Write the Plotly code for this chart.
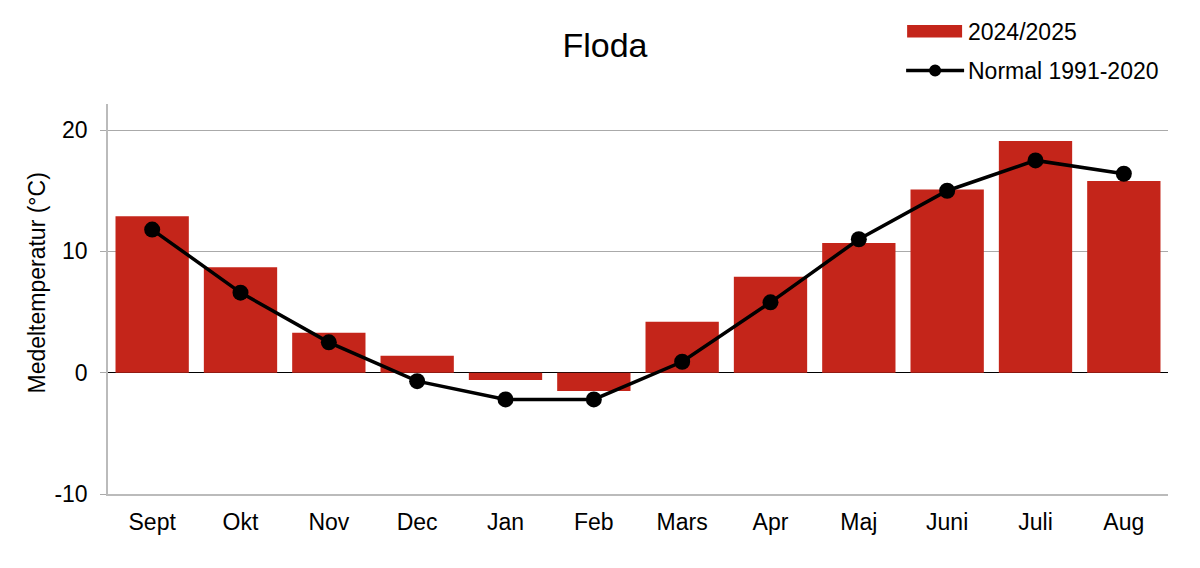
import plotly.graph_objects as go

months = ["Sept", "Okt", "Nov", "Dec", "Jan", "Feb", "Mars", "Apr", "Maj", "Juni", "Juli", "Aug"]
season_2024_2025 = [12.9, 8.7, 3.3, 1.4, -0.6, -1.5, 4.2, 7.9, 10.7, 15.1, 19.1, 15.8]
normal_1991_2020 = [11.8, 6.6, 2.5, -0.7, -2.2, -2.2, 0.9, 5.8, 11.0, 15.0, 17.5, 16.4]
y_ticks = [-10, 0, 10, 20]
y_tick_labels = ["-10", "0", "10", "20"]

BAR_COLOR = "#C4251A"
FONT = "Liberation Sans, Arial, sans-serif"

W, H = 1200, 568
L, R, T, B = 107.5, 32, 104, 74
PW, PH = W - L - R, H - T - B

def px(x):
    return (x - L) / PW

def py(y):
    return (H - B - y) / PH

fig = go.Figure()
fig.add_trace(go.Bar(x=months, y=season_2024_2025, marker=dict(color=BAR_COLOR, line=dict(width=0)),
                     name="2024/2025", showlegend=False))
fig.add_trace(go.Scatter(x=months, y=normal_1991_2020, mode="lines+markers",
                         line=dict(color="black", width=3.5), marker=dict(color="black", size=16),
                         name="Normal 1991-2020", showlegend=False))

# custom legend
fig.add_shape(type="rect", xref="paper", yref="paper", x0=px(907), x1=px(962), y0=py(37.5), y1=py(25),
              fillcolor=BAR_COLOR, line=dict(width=0))
fig.add_shape(type="line", xref="paper", yref="paper", x0=px(906), x1=px(964), y0=py(70.5), y1=py(70.5),
              line=dict(color="black", width=3.5))
fig.add_shape(type="circle", xref="paper", yref="paper", x0=px(929), x1=px(941), y0=py(76.5), y1=py(64.5),
              fillcolor="black", line=dict(width=0))
fig.add_annotation(xref="paper", yref="paper", x=px(966), y=py(31.5), text="2024/2025", showarrow=False,
                   xanchor="left", yanchor="middle", font=dict(family=FONT, size=23, color="black"))
fig.add_annotation(xref="paper", yref="paper", x=px(966), y=py(70.5), text="Normal 1991-2020", showarrow=False,
                   xanchor="left", yanchor="middle", font=dict(family=FONT, size=23, color="black"))
# y axis title
fig.add_annotation(xref="paper", yref="paper", x=px(36), y=py(283), text="Medeltemperatur (°C)", showarrow=False,
                   textangle=-90, xanchor="center", yanchor="middle",
                   font=dict(family=FONT, size=23, color="black"))

fig.update_layout(
    width=W, height=H,
    margin=dict(l=L, r=R, t=T, b=B, autoexpand=False),
    paper_bgcolor="white", plot_bgcolor="white",
    bargap=0.17,
    font=dict(family=FONT, color="black"),
    title=dict(text="Floda", x=605 / W, xref="container", xanchor="center", y=1 - 45 / H, yanchor="middle",
               font=dict(family=FONT, size=34, color="black")),
    xaxis=dict(range=[-0.5, 11.5], showline=True, linecolor="#BBBBBB", linewidth=1.5, ticks="", showgrid=False,
               tickfont=dict(family=FONT, size=23, color="black"), ticklabelstandoff=7),
    yaxis=dict(range=[-10, 22.15], tickvals=y_ticks, ticktext=y_tick_labels, showgrid=True,
               gridcolor="#AAAAAA", gridwidth=1,
               showline=True, linecolor="#BBBBBB", linewidth=1.5, ticks="outside", ticklen=6,
               tickcolor="#AAAAAA", zeroline=True, zerolinecolor="black", zerolinewidth=1,
               tickfont=dict(family=FONT, size=23, color="black"), ticklabelstandoff=8),
)

fig.write_html("out.html")
